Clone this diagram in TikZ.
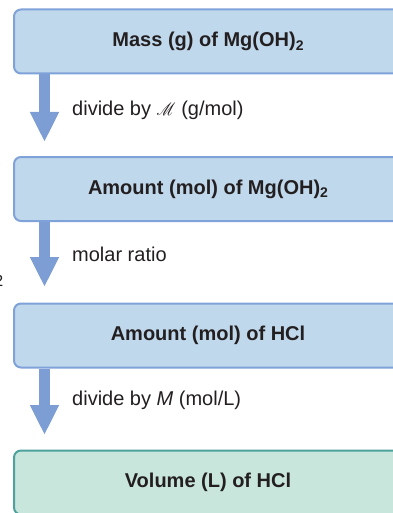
\documentclass[tikz,border=0pt]{standalone}
\usepackage{fontspec}
\setmainfont{Liberation Sans}
\usepackage{mathrsfs}
\usetikzlibrary{arrows.meta}
\definecolor{stbleu}{HTML}{C0D8EC}
\definecolor{stbord}{HTML}{7FA2D8}
\definecolor{stfleche}{HTML}{7C9ED5}
\definecolor{stvert}{HTML}{C9E6DC}
\definecolor{stvertbord}{HTML}{4EA29E}
\definecolor{sttexte}{HTML}{231F20}
\newcommand{\indice}[1]{\raisebox{-0.35ex}{\fontsize{14}{14}\selectfont #1}}
\newcommand{\molmasse}{\scalebox{0.74}[0.86]{$\mathscr{M}$}}

\begin{document}
\begin{tikzpicture}[x=1pt, y=-1pt,
  every node/.style={font=\fontsize{20}{24}\selectfont, text=sttexte},
  etape/.style={draw=stbord, fill=stbleu, line width=2pt, rounded corners=7pt,
    minimum width=388pt, minimum height=64pt, inner sep=0pt,
    font=\fontsize{20}{24}\selectfont\bfseries},
  fleche/.style={stfleche, line width=11pt, -{Triangle[width=27pt,length=30pt]}},
  legende/.style={anchor=west, inner sep=0pt}]
  \useasboundingbox (0,0) rectangle (392,513);
  % les quatre cases
  \node[etape] (masse) at (208,41.5) {Mass (g) of Mg(OH)\indice{2}};
  \node[etape] (molmg) at (208,189) {Amount (mol) of Mg(OH)\indice{2}};
  \node[etape] (molhcl) at (208,335.5) {Amount (mol) of HCl};
  \node[etape, draw=stvertbord, fill=stvert] (volume) at (208,482.5) {Volume (L) of HCl};
  % fleches
  \coordinate (p1) at (44.5,142);
  \coordinate (p2) at (44.5,287);
  \coordinate (p3) at (44.5,435);
  \draw[fleche] (masse.south -| p1) -- (p1);
  \draw[fleche] (molmg.south -| p2) -- (p2);
  \draw[fleche] (molhcl.south -| p3) -- (p3);
  % operations
  \node[legende] (op1) at (72,110) {divide by \molmasse{} (g/mol)};
  \node[legende] (op2) at (72,254) {molar ratio};
  \node[legende] (op3) at (72,400) {divide by \textit{M} (mol/L)};
  % reste coupe au bord
  \node[anchor=east, inner sep=0pt, font=\fontsize{16}{16}\selectfont] (reste) at (3.5,281) {2};
\end{tikzpicture}
\end{document}
